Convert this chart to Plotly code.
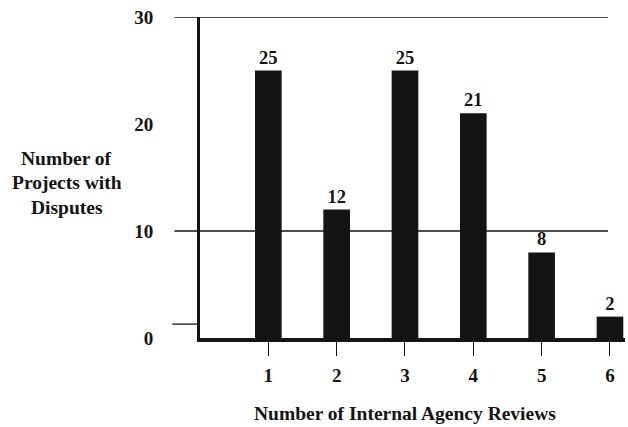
import plotly.graph_objects as go

# Data
reviews = [1, 2, 3, 4, 5, 6]
projects = [25, 12, 25, 21, 8, 2]
y_ticks = [0, 10, 20, 30]
grid_levels = [10, 30]
y_title_lines = ["Number of", "Projects with", "Disputes"]
x_title = "Number of Internal Agency Reviews"

FONT = "Times New Roman, Liberation Serif, DejaVu Serif, serif"
INK = "#141414"

fig = go.Figure(
    go.Bar(
        x=reviews,
        y=projects,
        width=0.39,
        marker=dict(color=INK, line=dict(width=0)),
        text=[f"<b>{v}</b>" for v in projects],
        textposition="outside",
        textfont=dict(family=FONT, size=18.5, color=INK),
        cliponaxis=False,
    )
)

shapes = []
# horizontal reference lines extending left past the axis
for g in grid_levels:
    shapes.append(dict(type="line", xref="paper", yref="y",
                       x0=-0.06, x1=0.96, y0=g, y1=g,
                       line=dict(color=INK, width=1.3), layer="below"))
# short tick beside the zero label
shapes.append(dict(type="line", xref="paper", yref="y",
                   x0=-0.065, x1=0, y0=1.3, y1=1.3,
                   line=dict(color=INK, width=1.3)))

annotations = []
for i, line in enumerate(y_title_lines):
    annotations.append(dict(text=f"<b>{line}</b>", xref="paper", yref="paper",
                            x=-0.313, y=0.56 - i * 0.077, showarrow=False,
                            xanchor="center", yanchor="middle",
                            font=dict(family=FONT, size=19.5, color=INK)))
annotations.append(dict(text=f"<b>{x_title}</b>", xref="paper", yref="paper",
                        x=0.482, y=-0.234, showarrow=False,
                        xanchor="center", yanchor="middle",
                        font=dict(family=FONT, size=19.5, color=INK)))

fig.update_layout(
    width=628, height=427,
    margin=dict(l=200, r=3, t=17, b=89),
    paper_bgcolor="white", plot_bgcolor="white",
    showlegend=False,
    shapes=shapes,
    annotations=annotations,
    font=dict(family=FONT, color=INK),
    xaxis=dict(
        range=[0, 6.22], tickvals=reviews,
        ticktext=[f"<b>{r}</b>" for r in reviews],
        showgrid=False, zeroline=False,
        showline=True, linecolor=INK, linewidth=3.5,
        ticks="outside", ticklen=14, tickwidth=1, tickcolor=INK,
        ticklabelstandoff=3,
        tickfont=dict(family=FONT, size=19, color=INK),
    ),
    yaxis=dict(
        range=[0, 30], tickvals=y_ticks,
        ticktext=[f"<b>{t}</b>" for t in y_ticks],
        showgrid=False, zeroline=False,
        showline=True, linecolor=INK, linewidth=3,
        ticks="", ticklabelstandoff=40,
        tickfont=dict(family=FONT, size=19, color=INK),
    ),
)

fig.write_html("out.html")
